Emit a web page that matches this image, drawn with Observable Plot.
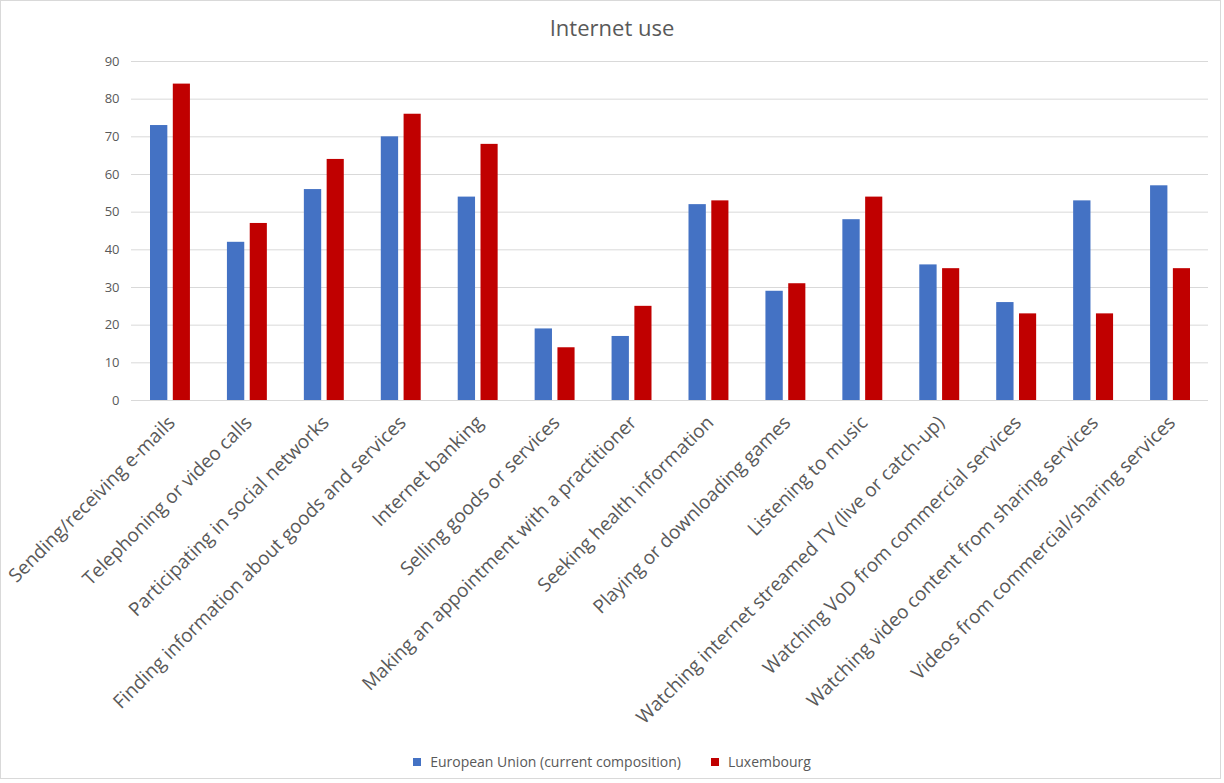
<!DOCTYPE html>
<html>
<head>
<meta charset="utf-8">
<script src="https://cdn.jsdelivr.net/npm/d3@7"></script>
<script src="https://cdn.jsdelivr.net/npm/@observablehq/plot@0.6"></script>
<style>
  html, body { margin: 0; padding: 0; background: #fff; }
  #wrap { position: relative; width: 1224px; height: 783px; font-family: "Open Sans", sans-serif; color: #595959; }
  #frame { position: absolute; left: 0; top: 0; width: 1221px; height: 779px; border: 1px solid #d9d9d9; box-sizing: border-box; pointer-events: none; }
  #title { position: absolute; left: 0; width: 1224px; top: 12px; text-align: center; font-size: 22px; font-weight: 400; color: #595959; }
  #chart { position: absolute; left: 0; top: 45px; }
  #legend { position: absolute; left: 0; top: 752px; width: 1224px; display: flex; justify-content: center; gap: 30px; font-size: 14px; color: #595959; }
  #legend span.sw { display: inline-block; width: 8px; height: 8px; margin-right: 9px; vertical-align: 1px; }
</style>
</head>
<body>
<div id="wrap">
  <div id="title">Internet use</div>
  <div id="chart"></div>
  <div id="legend"></div>
  <div id="frame"></div>
</div>
<script>
const categories = [
  "Sending/receiving e-mails",
  "Telephoning or video calls",
  "Participating in social networks",
  "Finding information about goods and services",
  "Internet banking",
  "Selling goods or services",
  "Making an appointment with a practitioner",
  "Seeking health information",
  "Playing or downloading games",
  "Listening to music",
  "Watching internet streamed TV (live or catch-up)",
  "Watching VoD from commercial services",
  "Watching video content from sharing services",
  "Videos from commercial/sharing services"
];
const seriesNames = ["European Union (current composition)", "Luxembourg"];
const euValues = [73, 42, 56, 70, 54, 19, 17, 52, 29, 48, 36, 26, 53, 57];
const luValues = [84, 47, 64, 76, 68, 14, 25, 53, 31, 54, 35, 23, 23, 35];
const seriesColors = ["#4472C4", "#C00000"];
const yTicks = [0, 10, 20, 30, 40, 50, 60, 70, 80, 90];

const euData = categories.map((c, i) => ({category: c, series: seriesNames[0], value: euValues[i]}));
const luData = categories.map((c, i) => ({category: c, series: seriesNames[1], value: luValues[i]}));

const chart = Plot.plot({
  width: 1224,
  height: 700,
  marginLeft: 131,
  marginRight: 16,
  marginTop: 16,
  marginBottom: 345,
  style: {fontFamily: "Open Sans, sans-serif", color: "#595959", background: "transparent"},
  x: {domain: categories, padding: 0, round: false, label: null},
  y: {domain: [0, 90], ticks: yTicks, label: null},
  color: {domain: seriesNames, range: seriesColors},
  marks: [
    Plot.gridY(yTicks, {stroke: "#d9d9d9", strokeOpacity: 1, strokeWidth: 1}),
    Plot.axisY({ticks: yTicks, tickSize: 0, tickPadding: 12, fontSize: 13, label: null, anchor: "left"}),
    Plot.axisX({tickRotate: -45, tickSize: 0, tickPadding: 19, dx: 2, fontSize: 19, label: null, anchor: "bottom"}),
    Plot.barY(euData, {x: "category", y: "value", fill: "series", insetLeft: 19, insetRight: 40.6}),
    Plot.barY(luData, {x: "category", y: "value", fill: "series", insetLeft: 41.8, insetRight: 18})
  ]
});
document.getElementById("chart").appendChild(chart);

const legend = document.getElementById("legend");
seriesNames.forEach((s, i) => {
  const item = document.createElement("div");
  item.innerHTML = `<span class="sw" style="background:${seriesColors[i]}"></span>${s}`;
  legend.appendChild(item);
});
</script>
</body>
</html>
